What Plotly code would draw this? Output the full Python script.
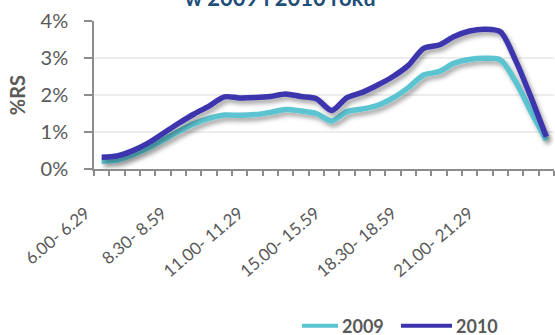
import plotly.graph_objects as go

# Half-hour / hour time slots of the broadcasting day
slots = [
    "6.00- 6.29", "6.30- 6.59", "7.00- 7.29", "7.30- 7.59", "8.00- 8.29",
    "8.30- 8.59", "9.00- 9.29", "9.30- 9.59", "10.00- 10.29", "10.30- 10.59",
    "11.00- 11.29", "11.30- 11.59", "12.00- 12.59", "13.00- 13.59", "14.00- 14.59",
    "15.00- 15.59", "16.00- 16.59", "17.00- 17.29", "17.30- 17.59", "18.00- 18.29",
    "18.30- 18.59", "19.00- 19.29", "19.30- 19.59", "20.00- 20.29", "20.30- 20.59",
    "21.00- 21.29", "21.30- 21.59", "22.00- 22.59", "23.00- 23.59", "24.00- 5.59",
]

# Share of listeners (%RS) per slot
rs_2009 = [0.21, 0.24, 0.38, 0.56, 0.78, 1.01, 1.22, 1.37, 1.46, 1.45,
           1.47, 1.53, 1.61, 1.57, 1.50, 1.30, 1.55, 1.62, 1.72, 1.92,
           2.20, 2.54, 2.63, 2.86, 2.96, 2.99, 2.95, 2.36, 1.55, 0.78]
rs_2010 = [0.32, 0.35, 0.49, 0.69, 0.96, 1.23, 1.48, 1.70, 1.95, 1.92,
           1.93, 1.96, 2.03, 1.96, 1.90, 1.58, 1.93, 2.07, 2.27, 2.50,
           2.80, 3.26, 3.35, 3.58, 3.73, 3.78, 3.71, 2.93, 1.94, 0.87]

label_every = 5
tick_text = [s if i % label_every == 0 else "" for i, s in enumerate(slots)]

FONT = "Lato, 'Open Sans', sans-serif"
GREY = "#595959"

fig = go.Figure()
fig.add_trace(go.Scatter(
    x=slots, y=rs_2009, name="2009", mode="lines",
    line=dict(color="#5BC4D1", width=5.5, shape="spline", smoothing=0.8),
))
fig.add_trace(go.Scatter(
    x=slots, y=rs_2010, name="2010", mode="lines",
    line=dict(color="#3D34AD", width=5.5, shape="spline", smoothing=0.8),
))

fig.update_layout(
    width=555, height=335,
    margin=dict(l=94, r=1, t=21, b=166),
    paper_bgcolor="white", plot_bgcolor="white",
    font=dict(family=FONT, color=GREY),
    title=dict(
        text="<b>w 2009 i 2010 roku</b>",
        font=dict(size=22, color="#1F4E79", family=FONT),
        x=0.505, xanchor="center", xref="container",
        y=1.0, yanchor="bottom", yref="container", pad=dict(b=-6),
    ),
    showlegend=True,
    legend=dict(
        orientation="h", xref="container", yref="container",
        x=302 / 555, xanchor="left", y=9 / 335, yanchor="middle",
        font=dict(size=18, color=GREY, family=FONT, weight="bold"),
        bgcolor="rgba(0,0,0,0)", entrywidth=69, entrywidthmode="pixels",
        itemwidth=30, borderwidth=0,
    ),
)

fig.update_xaxes(
    type="category", tickmode="array", tickvals=slots, ticktext=tick_text,
    tickson="boundaries", ticks="outside", ticklen=5, tickwidth=1.5,
    tickcolor="#8C8C8C", showline=True, linecolor="#8C8C8C", linewidth=1.5,
    showgrid=False, tickangle=-40, tickfont=dict(size=17, color=GREY),
    ticklabelstandoff=26, ticklabelshift=-16,
    range=[-0.5, len(slots) - 0.5], fixedrange=True,
)
fig.update_yaxes(
    range=[0, 4], dtick=1, ticksuffix="%", ticks="outside", ticklen=8,
    tickwidth=1.5, tickcolor="#8C8C8C", showline=True, linecolor="#8C8C8C",
    linewidth=1.5, showgrid=True, gridcolor="#EDEDED", gridwidth=2,
    zeroline=False, tickfont=dict(size=20, color=GREY), ticklabelstandoff=12,
    title=dict(text="<b>%RS</b>", font=dict(size=20, color=GREY), standoff=10),
    fixedrange=True,
)

# Soft drop shadow under the plotted lines; longer legend line samples
post_js = """
var gd = document.getElementById('{plot_id}');
var ns = 'http://www.w3.org/2000/svg';
var svg = gd.querySelector('svg.main-svg');
var defs = svg.querySelector('defs') || svg.insertBefore(document.createElementNS(ns, 'defs'), svg.firstChild);
var f = document.createElementNS(ns, 'filter');
f.setAttribute('id', 'lineshadow');
f.setAttribute('x', '-10%'); f.setAttribute('y', '-30%');
f.setAttribute('width', '130%'); f.setAttribute('height', '160%');
var ds = document.createElementNS(ns, 'feDropShadow');
ds.setAttribute('dx', '2.5'); ds.setAttribute('dy', '3.5');
ds.setAttribute('stdDeviation', '2');
ds.setAttribute('flood-color', '#000'); ds.setAttribute('flood-opacity', '0.35');
f.appendChild(ds); defs.appendChild(f);
gd.querySelectorAll('.scatterlayer .trace path.js-line').forEach(function (p) {
  p.setAttribute('filter', 'url(#lineshadow)');
});
gd.querySelectorAll('.legend .legendlines path').forEach(function (p) {
  p.setAttribute('d', 'M-15,0h51');
  p.style.strokeWidth = '4px';
});
"""

fig.write_html("out.html", post_script=post_js)
